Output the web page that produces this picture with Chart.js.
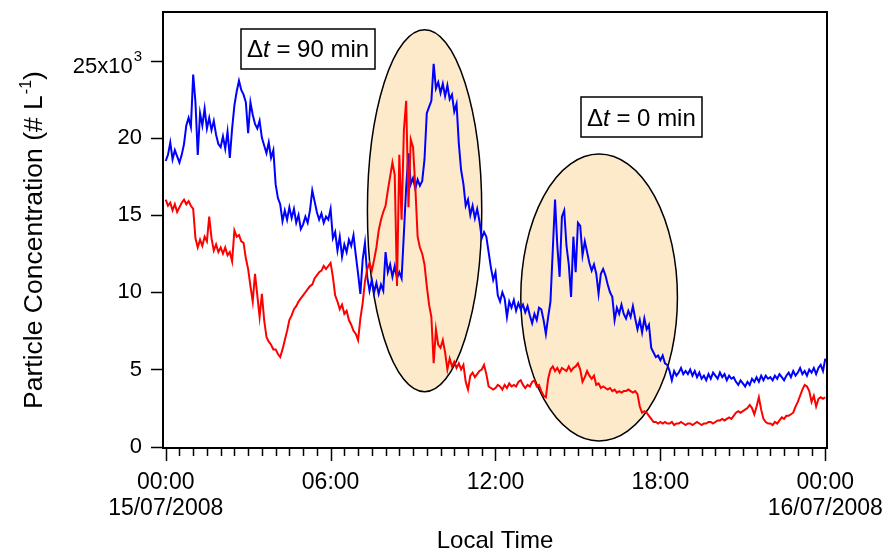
<!DOCTYPE html>
<html>
<head>
<meta charset="utf-8">
<script src="https://cdn.jsdelivr.net/npm/chart.js@4.4.1/dist/chart.umd.min.js"></script>
<style>
html,body{margin:0;padding:0;background:#ffffff;}
#wrap{width:888px;height:551px;}
canvas{display:block;}
</style>
</head>
<body>
<div id="wrap"><canvas id="chart" width="888" height="551"></canvas></div>
<script>
// ---------------- data (5-minute samples, 15/07/2008 00:00 -> 16/07/2008 00:00) ----------------
const sampleMinutes = 5;

// blue trace, particle concentration (x10^3 per litre)
const blueSeries = [
  18.5, 18.9, 19.7, 18.6, 19.2, 18.8, 18.4, 18.9, 19.6, 20.8, 21.3, 20.7,
  24.1, 22.3, 18.9, 21.6, 20.8, 21.9, 20.6, 21.3, 20.5, 21.1, 20.2, 19.6,
  19.4, 20.1, 19.3, 20.4, 18.7, 20.6, 22.1, 23.0, 23.7, 23.1, 22.8, 22.3,
  20.3, 22.3, 21.5, 20.9, 20.6, 21.1, 20.0, 19.5, 19.0, 19.7, 18.7, 19.2,
  17.0, 16.1, 15.7, 14.6, 15.3, 14.7, 15.5, 14.8, 15.4, 14.5, 15.0, 14.1,
  14.4, 14.9, 14.5, 15.3, 16.6, 15.9, 15.2, 14.7, 15.1, 14.5, 14.9, 14.7,
  15.4, 13.5, 13.9, 12.7, 13.6, 12.3, 13.1, 12.6, 13.4, 13.0, 13.7, 12.4,
  11.2, 9.9, 12.1, 13.2, 11.0, 10.1, 10.8, 10.0, 10.6, 9.9, 10.5, 10.1,
  12.6, 11.3, 11.8, 11.0, 11.7, 10.9, 11.3, 10.9, 13.8, 16.8, 19.0, 17.0,
  17.4, 16.7, 17.3, 16.9, 17.2, 18.6, 21.6, 22.0, 22.4, 24.8, 23.2, 23.6,
  22.9, 23.5, 22.7, 23.4, 22.5, 22.8, 21.7, 22.2, 19.6, 17.9, 17.0, 15.6,
  16.0, 15.0, 15.6, 14.8, 15.4, 14.6, 13.5, 13.9, 13.6, 12.6, 11.6, 10.8,
  11.3, 9.8, 9.4, 10.0, 9.6, 8.4, 9.4, 9.0, 9.5, 8.8, 9.3, 8.9,
  9.2, 8.7, 9.1, 8.5, 8.0, 8.6, 8.2, 9.0, 8.9, 8.2, 7.3, 8.4,
  9.4, 12.7, 16.0, 13.0, 11.0, 14.9, 15.3, 13.0, 11.8, 9.7, 13.6, 11.3,
  14.5, 14.3, 12.4, 13.3, 12.6, 11.9, 11.4, 11.8, 11.2, 9.9, 11.2, 11.5,
  11.1, 10.5, 10.0, 9.7, 8.2, 9.0, 8.6, 9.2, 8.6, 8.3, 8.8, 8.4,
  9.1, 8.3, 7.6, 8.2, 7.4, 8.3, 7.6, 7.9, 6.4, 6.1, 5.8, 5.9,
  5.6, 5.9, 5.4, 5.3, 4.9, 4.3, 4.9, 4.6, 4.8, 5.1, 4.7, 4.9,
  4.7, 5.0, 4.6, 4.9, 4.5, 4.8, 4.4, 4.6, 4.3, 4.7, 4.4, 4.8,
  4.6, 4.4, 4.8, 4.5, 4.7, 4.3, 4.6, 4.4, 4.5, 4.2, 4.0, 4.3,
  4.1, 3.9, 4.2, 4.0, 4.4, 4.2, 4.5, 4.2, 4.6, 4.3, 4.6, 4.4,
  4.5, 4.3, 4.6, 4.4, 4.7, 4.5, 4.3, 4.6, 4.8, 4.5, 4.9, 4.6,
  4.8, 5.1, 4.7, 4.9, 4.6, 5.0, 4.8, 5.1, 4.7, 5.1, 5.3, 4.9,
  5.7
];

// red trace, particle concentration (x10^3 per litre)
const redSeries = [
  16.0, 15.6, 15.8, 15.3, 15.7, 15.2, 15.5, 15.8, 16.0, 15.7, 15.9, 15.6,
  15.4, 13.5, 12.9, 13.4, 13.0, 13.6, 13.3, 14.9, 13.5, 12.7, 13.1, 12.6,
  12.9, 12.5, 12.9, 12.4, 12.6, 12.0, 14.0, 13.6, 13.7, 13.3, 13.2, 12.2,
  11.5, 10.4, 9.4, 11.2, 9.8, 8.4, 9.9, 8.2, 7.1, 6.8, 6.6, 6.3,
  6.3, 6.0, 5.8, 6.3, 6.9, 7.5, 8.2, 8.5, 8.9, 9.1, 9.4, 9.6,
  9.8, 10.0, 10.2, 10.4, 10.5, 10.9, 11.1, 11.3, 11.4, 11.7, 11.5, 11.7,
  11.9, 11.0, 9.8, 9.4, 8.9, 9.2, 8.6, 8.8, 8.2, 7.9, 7.5, 7.3,
  6.9, 8.3, 9.3, 10.7, 11.5, 11.9, 11.4, 12.1, 12.9, 14.0, 14.7, 15.2,
  15.6, 16.6, 17.5, 18.4, 17.6, 10.4, 18.9, 14.7, 20.5, 22.4, 15.5, 19.9,
  19.4, 16.8, 13.6, 12.9, 12.5, 11.8, 10.4, 9.2, 8.4, 5.4, 7.6, 6.6,
  6.4, 6.9, 6.1, 5.0, 5.7, 5.2, 5.5, 5.1, 5.4, 5.0, 5.3, 4.2,
  3.7, 4.6, 4.8, 4.5, 4.7, 4.9, 5.0, 5.3, 4.7, 3.9, 3.8, 3.7,
  3.8, 4.0, 3.9, 3.7, 4.0, 3.8, 4.1, 3.9, 4.0, 3.9, 4.2, 4.3,
  4.0, 3.8, 4.0, 3.9, 4.2, 4.3, 3.9, 4.0, 3.6, 3.3, 3.2, 4.4,
  5.0, 5.2, 4.9, 5.1, 4.8, 5.1, 5.0, 4.9, 5.2, 4.9, 5.1, 5.2,
  5.4, 5.0, 4.2, 4.5, 4.9, 4.6, 4.4, 4.6, 4.0, 4.1, 3.8, 3.9,
  3.8, 3.7, 3.8, 3.6, 3.7, 3.5, 3.6, 3.5, 3.6, 3.6, 3.7, 3.6,
  3.5, 3.6, 3.4, 2.6, 2.2, 2.3, 2.2, 2.0, 1.8, 1.6, 1.6, 1.5,
  1.6, 1.5, 1.6, 1.5, 1.5, 1.6, 1.4, 1.5, 1.5, 1.6, 1.5, 1.4,
  1.5, 1.5, 1.4, 1.5, 1.6, 1.5, 1.4, 1.5, 1.5, 1.6, 1.6, 1.5,
  1.6, 1.7, 1.7, 1.8, 1.7, 1.8, 1.9, 1.8, 2.0, 2.2, 2.3, 2.2,
  2.3, 2.4, 2.5, 2.7, 2.5, 2.1, 2.6, 3.2, 2.4, 1.8, 1.6, 1.5,
  1.5, 1.4, 1.6, 1.5, 1.7, 1.9, 1.8, 2.0, 2.0, 2.1, 2.2, 2.6,
  2.9, 3.3, 3.7, 4.0, 3.9, 3.6, 2.9, 3.3, 2.6, 3.1, 3.2, 3.1,
  3.2
];

// axis ticks
const xTickHours = [0, 6, 12, 18, 24];
const xTickLabels = [["00:00", "15/07/2008"], "06:00", "12:00", "18:00", ["00:00", "16/07/2008"]];
const xMinorStepHours = 0.5;
const yTickValues = [0, 5, 10, 15, 20, 25];
const yTickLabels = ["0", "5", "10", "15", "20", "25x10"];
const yTickExponent = "3";

// texts
const xAxisTitle = "Local Time";
const yAxisTitle = ["Particle Concentration (# L", "-1", ")"];

// highlighted periods (data units: hours, x10^3 per litre)
const ellipseHours = [[7.34, 11.50], [12.92, 18.62]];
const ellipseValues = [[3.56, 27.0], [0.37, 18.95]];
// lag annotations
const lagLabels = ["90 min", "0 min"];
const lagHours = [5.18, 17.31];
const lagValues = [25.76, 21.33];

// ---------------- chart ----------------
const FONT = '"Liberation Sans", Arial, Helvetica, sans-serif';

const toPoints = vals => vals.map((v, i) => ({ x: i * sampleMinutes / 60, y: v }));

const decor = {
  id: 'decor',
  beforeDatasetsDraw(chart) {
    const ctx = chart.ctx, xs = chart.scales.x, ys = chart.scales.y;
    ctx.save();
    for (let i = 0; i < ellipseHours.length; i++) {
      const x0 = xs.getPixelForValue(ellipseHours[i][0]);
      const x1 = xs.getPixelForValue(ellipseHours[i][1]);
      const y0 = ys.getPixelForValue(ellipseValues[i][0]);
      const y1 = ys.getPixelForValue(ellipseValues[i][1]);
      ctx.beginPath();
      ctx.ellipse((x0 + x1) / 2, (y0 + y1) / 2, Math.abs(x1 - x0) / 2, Math.abs(y0 - y1) / 2, 0, 0, Math.PI * 2);
      ctx.fillStyle = '#fdeacb';
      ctx.fill();
      ctx.lineWidth = 1.5;
      ctx.strokeStyle = '#000000';
      ctx.stroke();
    }
    ctx.restore();
  },
  afterDatasetsDraw(chart) {
    const ctx = chart.ctx, xs = chart.scales.x, ys = chart.scales.y;
    const area = chart.chartArea;
    ctx.save();
    // lag boxes
    const fs = 24;
    const fReg = fs + 'px ' + FONT;
    const fIt = 'italic ' + fs + 'px ' + FONT;
    for (let i = 0; i < lagLabels.length; i++) {
      const parts = [['\u0394', fReg], ['t', fIt], [' = ' + lagLabels[i], fReg]];
      let w = 0;
      const widths = parts.map(p => { ctx.font = p[1]; const m = ctx.measureText(p[0]).width; w += m; return m; });
      const cx = xs.getPixelForValue(lagHours[i]);
      const cy = ys.getPixelForValue(lagValues[i]);
      const bw = w + 12, bh = 40;
      ctx.fillStyle = '#ffffff';
      ctx.fillRect(Math.round(cx - bw / 2), Math.round(cy - bh / 2), Math.round(bw), bh);
      ctx.lineWidth = 1.5;
      ctx.strokeStyle = '#000000';
      ctx.strokeRect(Math.round(cx - bw / 2), Math.round(cy - bh / 2), Math.round(bw), bh);
      ctx.fillStyle = '#000000';
      ctx.textBaseline = 'alphabetic';
      ctx.textAlign = 'left';
      let x = cx - w / 2;
      const base = cy + fs * 0.716 / 2;
      parts.forEach((p, k) => { ctx.font = p[1]; ctx.fillText(p[0], x, base); x += widths[k]; });
    }
    // frame
    ctx.lineWidth = 2;
    ctx.strokeStyle = '#000000';
    ctx.strokeRect(area.left, area.top, area.right - area.left, area.bottom + 1 - area.top);
    // y ticks
    ctx.beginPath();
    yTickValues.forEach(v => {
      const y = Math.round(ys.getPixelForValue(v)) + 0.5;
      ctx.moveTo(area.left - 12, y);
      ctx.lineTo(area.left, y);
    });
    ctx.lineWidth = 1.5;
    ctx.stroke();
    // x ticks (major and minor)
    ctx.beginPath();
    const nMinor = Math.round((xTickHours[xTickHours.length - 1] - xTickHours[0]) / xMinorStepHours);
    for (let k = 0; k <= nMinor; k++) {
      const h = xTickHours[0] + k * xMinorStepHours;
      const x = Math.round(xs.getPixelForValue(h)) + 0.5;
      const major = xTickHours.includes(h);
      ctx.moveTo(x, area.bottom + 1);
      ctx.lineTo(x, area.bottom + (major ? 14 : 9));
    }
    ctx.lineWidth = 1.5;
    ctx.stroke();
    // top y tick label with exponent
    const y25 = ys.getPixelForValue(yTickValues[yTickValues.length - 1]);
    ctx.fillStyle = '#000000';
    ctx.textAlign = 'right';
    ctx.textBaseline = 'alphabetic';
    ctx.font = '15px ' + FONT;
    const expW = ctx.measureText(yTickExponent).width;
    const rightEdge = area.left - 21;
    ctx.fillText(yTickExponent, rightEdge, y25);
    ctx.font = '22px ' + FONT;
    ctx.fillText(yTickLabels[yTickLabels.length - 1], rightEdge - expW - 1, y25 + 12.6);
    // x axis title
    ctx.font = '24px ' + FONT;
    ctx.textAlign = 'center';
    ctx.fillText(xAxisTitle, (area.left + area.right) / 2, 548);
    // y axis title (rotated, with superscript)
    const tf = '26.5px ' + FONT, sf = '16px ' + FONT;
    ctx.font = tf; const w1 = ctx.measureText(yAxisTitle[0]).width;
    ctx.font = sf; const w2 = ctx.measureText(yAxisTitle[1]).width;
    ctx.font = tf; const w3 = ctx.measureText(yAxisTitle[2]).width;
    const total = w1 + w2 + w3 + 1;
    ctx.translate(42, 240);
    ctx.rotate(-Math.PI / 2);
    ctx.textAlign = 'left';
    let tx = -total / 2;
    ctx.font = tf; ctx.fillText(yAxisTitle[0], tx, 0); tx += w1 + 1;
    ctx.font = sf; ctx.fillText(yAxisTitle[1], tx, -11); tx += w2;
    ctx.font = tf; ctx.fillText(yAxisTitle[2], tx, 0);
    ctx.restore();
  }
};

new Chart(document.getElementById('chart'), {
  type: 'line',
  data: {
    datasets: [
      { label: 'red', data: toPoints(redSeries), borderColor: '#ff0000', borderWidth: 2, pointRadius: 0, tension: 0, fill: false },
      { label: 'blue', data: toPoints(blueSeries), borderColor: '#0000ff', borderWidth: 2, pointRadius: 0, tension: 0, fill: false }
    ]
  },
  options: {
    responsive: false,
    animation: false,
    devicePixelRatio: 1,
    layout: { padding: { left: 0, right: 61, top: 12, bottom: 0 } },
    plugins: { legend: { display: false }, tooltip: { enabled: false }, title: { display: false } },
    scales: {
      x: {
        type: 'linear',
        min: -0.098,
        max: 24.062,
        grid: { display: false, drawTicks: false },
        border: { display: false },
        afterBuildTicks: s => { s.ticks = xTickHours.map(v => ({ value: v })); },
        afterFit: s => { s.height = 104; s.paddingLeft = 0; s.paddingRight = 0; },
        ticks: {
          autoSkip: false, maxRotation: 0, minRotation: 0,
          padding: 23,
          color: '#000000',
          font: { family: FONT, size: 23, lineHeight: 1.117 },
          callback: v => { const i = xTickHours.indexOf(v); return i >= 0 ? xTickLabels[i] : ''; }
        }
      },
      y: {
        type: 'linear',
        min: -0.02,
        max: 28.15,
        grid: { display: false, drawTicks: false },
        border: { display: false },
        afterBuildTicks: s => { s.ticks = yTickValues.map(v => ({ value: v })); },
        afterFit: s => { s.width = 163; s.paddingTop = 0; s.paddingBottom = 0; },
        ticks: {
          padding: 21,
          color: '#000000',
          font: { family: FONT, size: 22 },
          callback: v => { const i = yTickValues.indexOf(v); return (i >= 0 && i < yTickValues.length - 1) ? yTickLabels[i] : ''; }
        }
      }
    }
  },
  plugins: [decor]
});
</script>
</body>
</html>
